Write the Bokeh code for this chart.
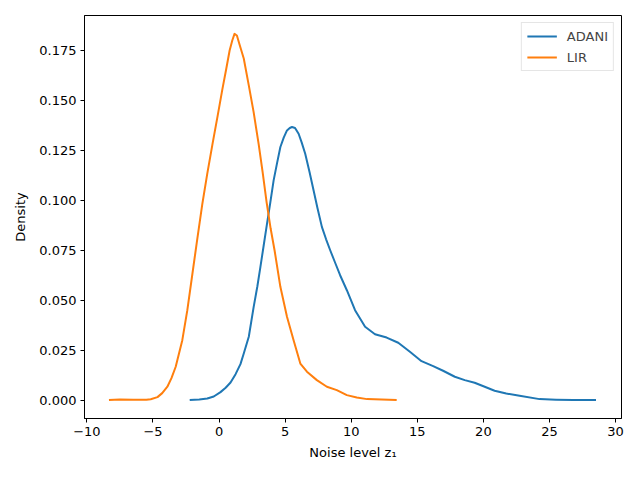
from bokeh.plotting import figure
from bokeh.models import Range1d, FixedTicker, NumeralTickFormatter, CustomJSTickFormatter, Legend, LegendItem
from bokeh.embed import file_html
from bokeh.resources import INLINE

# ADANI density curve
adani_x = [-2.22, -1.5, -0.89, -0.4, 0.11, 0.5, 0.87, 1.25, 1.62, 1.87, 2.25, 2.62, 2.9, 3.13,
           3.38, 3.63, 3.88, 4.13, 4.4, 4.64, 4.9, 5.14, 5.35, 5.52, 5.75, 6.02, 6.25, 6.52, 6.85,
           7.15, 7.45, 7.78, 8.1, 8.41, 8.8, 9.16, 9.67, 10.29, 11.05, 11.8, 12.68, 13.56, 14.44,
           15.32, 16.2, 16.95, 17.84, 18.59, 19.34, 20.1, 20.85, 21.73, 22.74, 24.25, 25.5, 26.8,
           28.52]
adani_y = [0.0, 0.0003, 0.0008, 0.0018, 0.004, 0.0062, 0.0088, 0.013, 0.018, 0.0233, 0.0317,
           0.0467, 0.057, 0.0667, 0.0775, 0.0883, 0.099, 0.11, 0.119, 0.1267, 0.1315, 0.135,
           0.1362, 0.1367, 0.1362, 0.1333, 0.129, 0.1233, 0.114, 0.105, 0.096, 0.0867, 0.0805,
           0.075, 0.0685, 0.0625, 0.055, 0.045, 0.0367, 0.033, 0.0313, 0.0287, 0.0242, 0.0195,
           0.017, 0.0147, 0.0117, 0.01, 0.0087, 0.0067, 0.0047, 0.0033, 0.0022, 0.0005, 0.0002,
           0.0, 0.0]

# LIR density curve
lir_x = [-8.33, -7.5, -6.5, -5.5, -5.17, -4.66, -4.3, -3.91, -3.6, -3.28, -2.78, -2.40, -2.02,
         -1.64, -1.27, -0.9, -0.5, -0.1, 0.25, 0.55, 0.8, 1.0, 1.17, 1.35, 1.55, 1.87, 2.25, 2.62,
         3.0, 3.3, 3.6, 3.9, 4.2, 4.64, 5.14, 5.64, 6.15, 6.65, 7.4, 8.16, 8.91, 9.67, 10.42, 11.2,
         12.3, 13.44]
lir_y = [0.0, 0.0003, 0.0002, 0.0002, 0.0004, 0.0015, 0.0035, 0.0067, 0.011, 0.0167, 0.03,
         0.045, 0.063, 0.081, 0.098, 0.113, 0.128, 0.1425, 0.1555, 0.166, 0.175, 0.180, 0.1833,
         0.1825, 0.178, 0.171, 0.1575, 0.144, 0.128, 0.114, 0.099, 0.086, 0.075, 0.0567, 0.0417,
         0.03, 0.0183, 0.0142, 0.01, 0.0067, 0.005, 0.0025, 0.0013, 0.0005, 0.0003, 0.0]

x_ticks = [-10, -5, 0, 5, 10, 15, 20, 25, 30]
y_ticks = [0.0, 0.025, 0.05, 0.075, 0.1, 0.125, 0.15, 0.175]

FONT = "DejaVu Sans"

p = figure(width=640, height=480, output_backend="svg", toolbar_location=None,
           x_range=Range1d(-10.18, 30.45), y_range=Range1d(-0.0092, 0.1925),
           min_border_left=84, min_border_right=19, min_border_top=15, min_border_bottom=62)
p.grid.visible = False
p.outline_line_color = "black"
p.outline_line_alpha = 1.0
p.outline_line_width = 1

r1 = p.line(adani_x, adani_y, line_color="#1f77b4", line_width=2, line_join="round")
r2 = p.line(lir_x, lir_y, line_color="#ff7f0e", line_width=2, line_join="round")

p.xaxis.ticker = FixedTicker(ticks=x_ticks)
p.yaxis.ticker = FixedTicker(ticks=y_ticks)
p.yaxis.formatter = NumeralTickFormatter(format="0.000")
p.xaxis.formatter = CustomJSTickFormatter(code="return (tick < 0 ? '\u2212' : '') + Math.abs(tick).toString();")

for ax in (p.xaxis[0], p.yaxis[0]):
    ax.major_tick_in = 0
    ax.major_tick_out = 4
    ax.minor_tick_out = 0
    ax.minor_tick_in = 0
    ax.axis_line_color = "black"
    ax.major_tick_line_color = "black"
    ax.major_label_text_font = FONT
    ax.major_label_text_font_size = "13px"
    ax.major_label_text_color = "black"
    ax.axis_label_text_font = FONT
    ax.axis_label_text_font_size = "13px"
    ax.axis_label_text_font_style = "normal"
    ax.axis_label_text_color = "black"
    ax.major_label_standoff = 4

p.xaxis.axis_label = "Noise level z\u2081"
p.yaxis.axis_label = "Density"
p.xaxis.axis_label_standoff = 6
p.yaxis.axis_label_standoff = 8

legend = Legend(items=[LegendItem(label="ADANI", renderers=[r1]),
                       LegendItem(label="LIR", renderers=[r2])],
                location="top_right")
legend.margin = 7
legend.padding = 5
legend.spacing = 5
legend.glyph_width = 30
legend.glyph_height = 16
legend.label_height = 16
legend.label_standoff = 10
legend.label_text_font = FONT
legend.label_text_font_size = "13px"
legend.border_line_color = "#cccccc"
legend.border_line_width = 1
legend.background_fill_alpha = 0.8
p.add_layout(legend, "center")

open("out.html", "w").write(file_html(p, INLINE))
